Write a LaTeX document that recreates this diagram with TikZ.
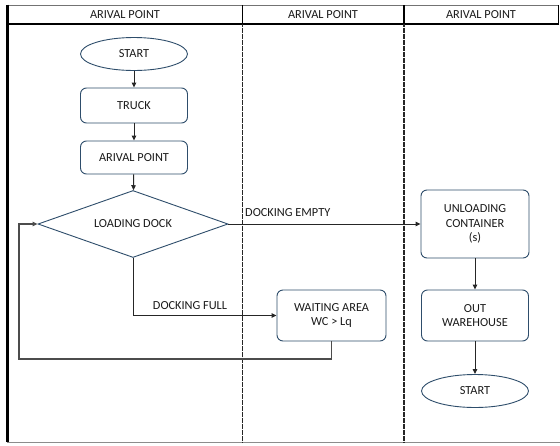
\documentclass[tikz,border=0pt]{standalone}
\usepackage{fontspec}
\setmainfont{Carlito}
\usetikzlibrary{shapes.geometric,arrows.meta}
\definecolor{nodeblue}{HTML}{2E4D6B}
\definecolor{txt}{HTML}{1A1A1A}
\begin{document}
\begin{tikzpicture}[x=1pt,y=-1pt,
  every node/.style={font=\fontsize{12.3}{14.5}\selectfont, text=txt},
  procbox/.style={draw=nodeblue, line width=0.9pt, rounded corners=6pt, fill=white, inner sep=0pt, align=center, minimum width=107pt},
  term/.style={draw=nodeblue, ellipse, line width=0.9pt, fill=white, inner sep=0pt, minimum width=107pt, minimum height=33pt},
  decision/.style={draw=nodeblue, diamond, line width=0.9pt, fill=white, inner sep=0pt, aspect=2.84, minimum width=190pt, minimum height=67pt},
  flow/.style={draw=black!85, line width=1pt, -{Triangle[length=5pt,width=4.5pt]}},
  loopline/.style={draw=black!70, line width=1.2pt, -{Triangle[length=5pt,width=4.5pt]}},
  lane/.style={line width=1.5pt, black!85, dash pattern=on 0.8pt off 0.4pt},
  hdrline/.style={black, line width=1.4pt},
]
\useasboundingbox (0,0) rectangle (560,445);
\fill[white] (0,0) rectangle (560,445);
% frame
\draw[black!55, line width=0.8pt] (7,5) -- (559,5);
\draw[hdrline] (7,24) -- (559,24);
\draw[hdrline] (242.5,5) -- (242.5,24);
\draw[hdrline] (404,5) -- (404,24);
\draw[hdrline] (558.5,5) -- (558.5,24);
\draw[black!45, line width=0.8pt] (7,442) -- (560,442);
\draw[black, line width=2.2pt] (7.5,4.6) -- (7.5,442.4);
\draw[lane] (242.5,24) -- (242.5,442);
\draw[lane] (404,24) -- (404,442);
% headers
\node (h1) at (125,15) {ARIVAL POINT};
\node (h2) at (323,15) {ARIVAL POINT};
\node (h3) at (481,15) {ARIVAL POINT};
% nodes
\node[term] (start) at (134,54) {START};
\node[procbox, minimum height=35pt] (truck) at (134,105.5) {TRUCK};
\node[procbox, minimum height=33pt] (arrival) at (134,157.5) {ARIVAL POINT};
\node[decision] (dock) at (133,224) {LOADING DOCK};
\node[procbox, minimum width=109pt, minimum height=51pt] (wait) at (331.5,315.5) {WAITING AREA\\WC > Lq};
\node[procbox, minimum width=108pt, minimum height=68pt] (unload) at (475,224) {UNLOADING\\CONTAINER\\(s)};
\node[procbox, minimum height=51pt] (out) at (475,315.5) {OUT\\WAREHOUSE};
\node[term] (end) at (475,391) {START};
% labels
\node[anchor=west, inner sep=0pt] (lempty) at (245,213) {DOCKING EMPTY};
\node[inner sep=0pt] (lfull) at (190,306) {DOCKING FULL};
% connectors
\draw[flow] (start) -- (truck);
\draw[flow] (truck) -- (arrival);
\draw[flow] (arrival) -- (dock);
\draw[flow] (dock.east) -- (unload.west);
\draw[flow] (dock.south) |- (wait.west);
\coordinate (loopc) at (19,359);
\draw[loopline] (wait.south) |- (loopc) |- (dock.west);
\draw[flow] (unload) -- (out);
\draw[flow] (out) -- (end);
\end{tikzpicture}
\end{document}
